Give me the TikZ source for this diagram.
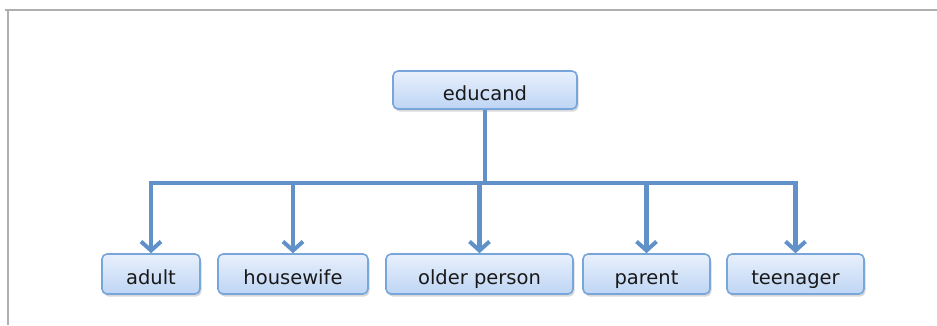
\documentclass[tikz,border=0pt]{standalone}
\usepackage{fontspec}
\setmainfont{DejaVu Sans}
\usetikzlibrary{arrows.meta,shadows}
\definecolor{linkblue}{RGB}{96,145,200}
\definecolor{boxtop}{RGB}{232,240,252}
\definecolor{boxbot}{RGB}{190,213,244}
\definecolor{boxedge}{RGB}{120,165,218}
\definecolor{framegray}{RGB}{175,175,175}
\tikzset{
  box/.style={draw=boxedge, line width=1.6pt, rounded corners=5pt,
    top color=boxtop, bottom color=boxbot, minimum height=40pt,
    inner sep=0pt, font=\fontsize{19.5}{22}\selectfont, text=black!90,
    text height=20pt, text depth=0pt,
    drop shadow={shadow xshift=1.5pt, shadow yshift=-2.5pt, opacity=0.25, fill=black!60}},
  link/.style={draw=linkblue, line width=4.5pt},
  arr/.style={link, -{Straight Barb[length=9pt,width=20pt,line width=4pt]}},
}
\begin{document}
\begin{tikzpicture}[x=1pt,y=-1pt]
\useasboundingbox (0,0) rectangle (937,325);
\draw[framegray, line width=2pt] (5,9.5) -- (937,9.5);
\draw[framegray, line width=2pt] (8,9.5) -- (8,325);
\node[box, minimum width=184pt, minimum height=38pt] (educand) at (485,90) {educand};
\node[box, minimum width=98pt] (adult) at (151,274) {adult};
\node[box, minimum width=150pt] (housewife) at (293,274) {housewife};
\node[box, minimum width=187pt] (older) at (479.5,274) {older person};
\node[box, minimum width=127pt] (parent) at (646.5,274) {parent};
\node[box, minimum width=137pt] (teen) at (795.5,274) {teenager};
\coordinate (hub) at (485,183);
\draw[link] (educand.south) -- (hub);
\draw[link] ([xshift=-2.25pt]hub -| adult) -- ([xshift=2.25pt]hub -| teen);
\foreach \n in {adult,housewife,older,parent,teen}
  \draw[arr] (hub -| \n) -- (\n.north);
\end{tikzpicture}
\end{document}
